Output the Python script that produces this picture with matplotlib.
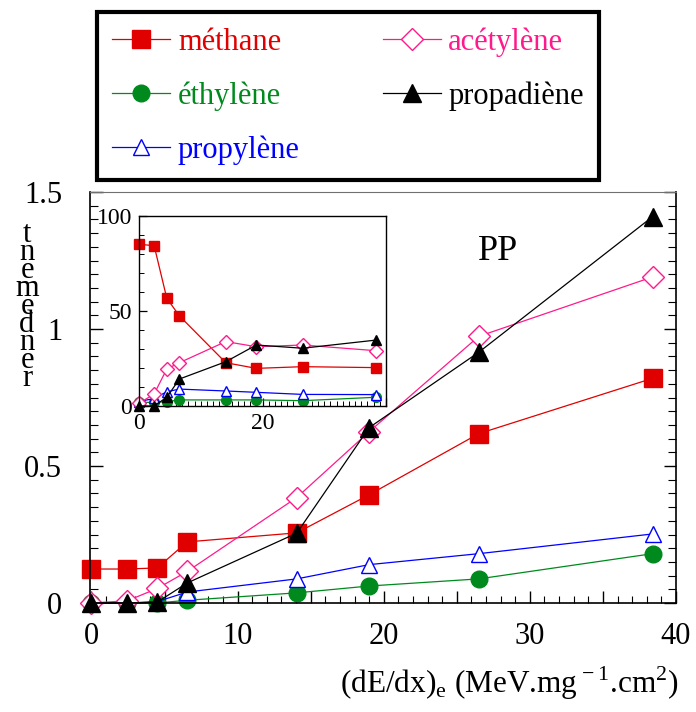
import numpy as np
import matplotlib
matplotlib.use("Agg")
import matplotlib.pyplot as plt
from matplotlib.ticker import MultipleLocator, FuncFormatter

plt.rcParams['font.family'] = ['Liberation Serif', 'DejaVu Serif']
plt.rcParams['mathtext.fontset'] = 'custom'
plt.rcParams['mathtext.rm'] = 'Liberation Serif'

# dE/dx values (MeV.mg-1.cm2)
dedx = [0.0, 2.45, 4.5, 6.55, 14.05, 19.0, 26.5, 38.4]

# main panel: yields
methane = [0.124, 0.124, 0.128, 0.223, 0.256, 0.395, 0.618, 0.82]
ethylene = [0.0, 0.0, 0.0, 0.01, 0.037, 0.062, 0.088, 0.18]
propylene = [0.0, 0.0, 0.005, 0.04, 0.088, 0.14, 0.18, 0.252]
acetylene = [0.0, 0.008, 0.053, 0.115, 0.385, 0.625, 0.973, 1.19]
propadiene = [0.0, 0.0, 0.003, 0.073, 0.255, 0.64, 0.915, 1.41]

# inset: relative proportions (%)
methane_pct = [85.1, 84.4, 56.7, 47.4, 22.8, 19.8, 20.7, 20.2]
ethylene_pct = [1.9, 1.9, 2.3, 3.2, 3.2, 3.2, 2.8, 4.6]
propylene_pct = [2.3, 4.0, 7.5, 8.9, 7.9, 7.2, 6.1, 6.0]
acetylene_pct = [1.4, 6.3, 19.5, 22.8, 33.9, 31.2, 32.1, 29.1]
propadiene_pct = [0.0, 0.0, 4.6, 14.2, 23.3, 32.1, 30.4, 34.7]

names = ['méthane', 'éthylène', 'propylène', 'acétylène', 'propadiène']
colors = ['#e00000', '#008a1e', '#0000ff', '#ff1a8c', '#000000']
main_series = [methane, ethylene, propylene, acetylene, propadiene]
inset_series = [methane_pct, ethylene_pct, propylene_pct, acetylene_pct, propadiene_pct]
styles = [dict(marker='s', ms=13, mfc='#e00000'),
          dict(marker='o', ms=12, mfc='#008a1e'),
          dict(marker='^', ms=12, mfc='white'),
          dict(marker='D', ms=11, mfc='white'),
          dict(marker='^', ms=13, mfc='black')]

W, H = 696, 712
fig = plt.figure(figsize=(W / 100, H / 100), dpi=100)
ax = fig.add_axes([90 / W, 1 - 603 / H, (676 - 90) / W, (603 - 192) / H])

handles = []
for y, name, c, st in zip(main_series, names, colors, styles):
    ln, = ax.plot(dedx, y, color=c, lw=0.9, mec=c, mew=1.0, label=name,
                  clip_on=False, **st)
    handles.append(ln)

ax.set_xlim(-0.1, 40)
ax.set_ylim(0, 1.5)
ax.xaxis.set_major_locator(MultipleLocator(5))
ax.xaxis.set_minor_locator(MultipleLocator(1))
ax.xaxis.set_major_formatter(FuncFormatter(lambda v, p: '%d' % v if v % 10 == 0 else ''))
ax.yaxis.set_major_locator(MultipleLocator(0.5))
ax.yaxis.set_minor_locator(MultipleLocator(0.05))
ax.yaxis.set_major_formatter(FuncFormatter(lambda v, p: '%g' % v))
ax.tick_params(axis='both', which='both', direction='in', labelsize=22)
ax.tick_params(axis='y', which='both', right=True)
ax.tick_params(axis='y', which='major', length=9, width=1, pad=20)
ax.tick_params(axis='y', which='minor', length=6, width=0.8)
ax.tick_params(axis='x', which='major', length=9, width=1, pad=14)
ax.tick_params(axis='x', which='minor', length=5, width=0.8)
ax.spines['top'].set_color('#707070')
for s in ['left', 'bottom', 'right']:
    ax.spines[s].set_linewidth(1.2)

ax.text(498 / W, 1 - 252 / H, 'PP', transform=fig.transFigure, fontsize=26,
        ha='center', va='center')

# vertical y label, letters stacked (as in the original rendering)
fig.text(27 / W, 1 - 307 / H, '\n'.join('tnemedner'),
         fontsize=22, ha='center', va='center', linespacing=0.5)

fig.text(509 / W, 1 - 683 / H,
         r'(dE/dx)$_{\rm e}$ (MeV.mg$^{\rm -1}$.cm$^{\rm 2}$)',
         fontsize=22.5, ha='center', va='center')

# inset
ins = fig.add_axes([139 / W, 1 - 406 / H, (386 - 139) / W, (406 - 216) / H])
ins.set_facecolor('white')
small = [7, 7, 7, 7, 7.5]
for y, c, st, ms in zip(inset_series, colors, styles, small):
    st2 = dict(st)
    st2['ms'] = ms
    ins.plot(dedx, y, color=c, lw=0.9, mec=c, mew=1.0, clip_on=False, **st2)
ins.set_xlim(0, 40)
ins.set_ylim(0, 100)
ins.xaxis.set_major_locator(MultipleLocator(20))
ins.xaxis.set_minor_locator(MultipleLocator(1))
ins.xaxis.set_major_formatter(FuncFormatter(lambda v, p: '%d' % v if v < 40 else ''))
ins.yaxis.set_major_locator(MultipleLocator(50))
ins.yaxis.set_minor_locator(MultipleLocator(10))
ins.tick_params(axis='both', which='both', direction='in', labelsize=17)
ins.tick_params(axis='x', which='major', length=6, width=0.9, pad=5)
ins.tick_params(axis='y', which='major', length=6, width=0.9, pad=5)
ins.tick_params(which='minor', length=3.5, width=0.7)
for s in ins.spines.values():
    s.set_linewidth(1.0)

leg = fig.legend(handles=handles, ncol=2, loc='upper left',
                 bbox_to_anchor=(97 / W, 1 - 178 / H, (599 - 97) / W, (178 - 12) / H),
                 mode='expand', borderaxespad=0, fontsize=22, labelcolor='linecolor',
                 handlelength=1.9, handletextpad=0.25, labelspacing=0.8,
                 borderpad=0.5, fancybox=False, edgecolor='black', framealpha=1)
leg.get_frame().set_linewidth(3)

fig.savefig('out.png', dpi=100)
